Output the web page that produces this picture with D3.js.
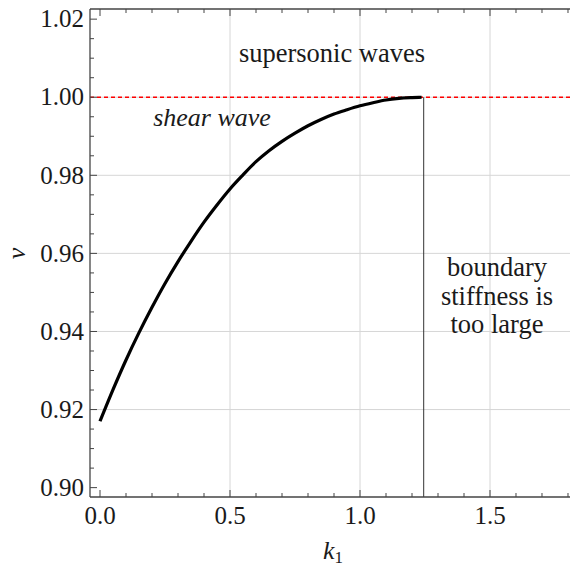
<!DOCTYPE html>
<html>
<head>
<meta charset="utf-8">
<script src="https://cdn.jsdelivr.net/npm/d3@7"></script>
<style>
  body { margin: 0; background: #fff; }
</style>
</head>
<body>
<svg id="chart" width="571" height="569" font-family="'Liberation Serif', 'Times New Roman', 'DejaVu Serif', serif"></svg>
<script>
// values
var k1 = [0.0, 0.05, 0.1, 0.15, 0.2, 0.25, 0.3, 0.35, 0.4, 0.45, 0.5, 0.55, 0.6,
          0.65, 0.7, 0.75, 0.8, 0.85, 0.9, 0.95, 1.0, 1.05, 1.1, 1.15, 1.2, 1.237];
var vel = [0.9170, 0.9251, 0.9327, 0.9397, 0.9462, 0.9523, 0.9579, 0.9631, 0.9680, 0.9724,
           0.9765, 0.9801, 0.9835, 0.9863, 0.9887, 0.9908, 0.9927, 0.9943, 0.9957, 0.9968,
           0.9978, 0.9986, 0.9993, 0.9997, 0.9999, 1.0000];
var cutoffK = 1.245;         // boundary stiffness limit
var shearV = 1.0;            // shear wave speed
var xTicks = [0.0, 0.5, 1.0, 1.5];
var yTicks = [0.90, 0.92, 0.94, 0.96, 0.98, 1.00, 1.02];
var xGrid = [0.5, 1.0, 1.5];
var yGrid = [0.92, 0.94, 0.96, 0.98, 1.00];

var svg = d3.select("#chart");
var pLeft = 90, pRight = 570, pTop = 9, pBottom = 497;
var serif = "'Liberation Serif', 'Times New Roman', 'DejaVu Serif', serif";
var ink = "#1a1a1a";

var x = d3.scaleLinear().domain([-0.0385, 1.8077]).range([pLeft, pRight]);
var y = d3.scaleLinear().domain([0.8976, 1.0226]).range([pBottom, pTop]);

var xMinor = d3.range(0, 19).map(function(i){ return i / 10; });
var yMinor = d3.range(0, 25).map(function(i){ return 0.90 + i * 0.005; });

// grid
var grid = svg.append("g").attr("class", "grid");
grid.selectAll(".gx").data(xGrid).enter().append("line")
  .attr("x1", function(d){ return x(d); }).attr("x2", function(d){ return x(d); })
  .attr("y1", pTop).attr("y2", pBottom)
  .attr("stroke", "#d6d6d6").attr("stroke-width", 1);
grid.selectAll(".gy").data(yGrid).enter().append("line")
  .attr("y1", function(d){ return y(d); }).attr("y2", function(d){ return y(d); })
  .attr("x1", pLeft).attr("x2", pRight)
  .attr("stroke", "#d6d6d6").attr("stroke-width", 1);

// shear wave line
svg.append("line")
  .attr("x1", pLeft).attr("x2", pRight)
  .attr("y1", y(shearV)).attr("y2", y(shearV))
  .attr("stroke", "#ff0000").attr("stroke-width", 1.5)
  .attr("stroke-dasharray", "4,3");

// cutoff line
svg.append("line")
  .attr("x1", x(cutoffK)).attr("x2", x(cutoffK))
  .attr("y1", y(shearV)).attr("y2", pBottom)
  .attr("stroke", "#333").attr("stroke-width", 1);

// curve
var pts = k1.map(function(d, i){ return [d, vel[i]]; });
svg.append("path")
  .datum(pts)
  .attr("fill", "none")
  .attr("stroke", "#000")
  .attr("stroke-width", 3.2)
  .attr("d", d3.line().x(function(d){ return x(d[0]); }).y(function(d){ return y(d[1]); }).curve(d3.curveMonotoneX));

// axes (ticks pointing inward)
var axisColor = "#444";
function isMajor(v, list){ return list.some(function(t){ return Math.abs(t - v) < 1e-6; }); }

var xAxis = svg.append("g").attr("transform", "translate(0," + pBottom + ")");
xAxis.append("line").attr("x1", pLeft).attr("x2", pRight).attr("stroke", axisColor).attr("stroke-width", 1.3);
xAxis.selectAll(".t").data(xMinor).enter().append("line")
  .attr("x1", function(d){ return x(d); }).attr("x2", function(d){ return x(d); })
  .attr("y1", 0).attr("y2", function(d){ return isMajor(d, xTicks) ? -7 : -4; })
  .attr("stroke", axisColor);
xAxis.selectAll(".l").data(xTicks).enter().append("text")
  .attr("x", function(d){ return x(d); }).attr("y", 27)
  .attr("text-anchor", "middle").attr("font-size", 25)
  .attr("font-family", serif).attr("fill", ink)
  .text(d3.format(".1f"));

var topAxis = svg.append("g").attr("transform", "translate(0," + pTop + ")");
topAxis.append("line").attr("x1", pLeft).attr("x2", pRight).attr("stroke", axisColor).attr("stroke-width", 1.3);
topAxis.selectAll(".t").data(xMinor).enter().append("line")
  .attr("x1", function(d){ return x(d); }).attr("x2", function(d){ return x(d); })
  .attr("y1", 0).attr("y2", function(d){ return isMajor(d, xTicks) ? 7 : 4; })
  .attr("stroke", axisColor);

var yAxis = svg.append("g").attr("transform", "translate(" + pLeft + ",0)");
yAxis.append("line").attr("y1", pTop).attr("y2", pBottom).attr("stroke", axisColor).attr("stroke-width", 1.3);
yAxis.selectAll(".t").data(yMinor).enter().append("line")
  .attr("y1", function(d){ return y(d); }).attr("y2", function(d){ return y(d); })
  .attr("x1", 0).attr("x2", function(d){ return isMajor(d, yTicks) ? 7 : 4; })
  .attr("stroke", axisColor);
yAxis.selectAll(".l").data(yTicks).enter().append("text")
  .attr("x", -6).attr("y", function(d){ return y(d); })
  .attr("dy", "0.33em")
  .attr("text-anchor", "end").attr("font-size", 25)
  .attr("font-family", serif).attr("fill", ink)
  .text(d3.format(".2f"));

// axis titles
svg.append("text")
  .attr("transform", "translate(25," + y(0.96) + ") rotate(-90)")
  .attr("text-anchor", "middle").attr("font-size", 26).attr("font-style", "italic")
  .attr("font-family", serif).attr("fill", ink)
  .text("v");
var xl = svg.append("text")
  .attr("x", 333).attr("y", 559)
  .attr("text-anchor", "middle").attr("font-size", 26)
  .attr("font-family", serif).attr("fill", ink);
xl.append("tspan").attr("font-style", "italic").text("k");
xl.append("tspan").attr("font-size", 17).attr("dy", 4).text("1");

// annotations
svg.append("text").attr("x", 332).attr("y", 62)
  .attr("text-anchor", "middle").attr("font-size", 26.5)
  .attr("font-family", serif).attr("fill", ink)
  .text("supersonic waves");
svg.append("text").attr("x", 212).attr("y", 126)
  .attr("text-anchor", "middle").attr("font-size", 26).attr("font-style", "italic")
  .attr("font-family", serif).attr("fill", ink)
  .text("shear wave");
var note = ["boundary", "stiffness is", "too large"];
svg.selectAll(".note").data(note).enter().append("text")
  .attr("x", 497).attr("y", function(d, i){ return 276 + i * 28.5; })
  .attr("text-anchor", "middle").attr("font-size", 26.5)
  .attr("font-family", serif).attr("fill", ink)
  .text(function(d){ return d; });
</script>
</body>
</html>
